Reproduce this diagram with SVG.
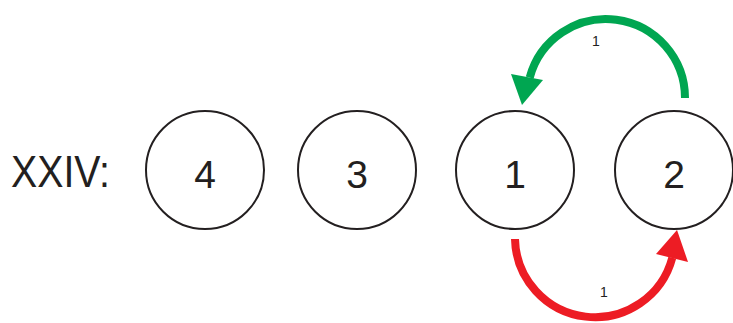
<svg xmlns="http://www.w3.org/2000/svg" width="733" height="323" viewBox="0 0 733 323">
<style>
.node circle{fill:#fff;stroke:#231f20;stroke-width:2}
.node text,.lbl{font-family:"Liberation Sans",Arial,sans-serif;fill:#231f20;text-anchor:middle}
.node text{font-size:39px}
.lbl{font-size:14px}
.g{fill:none;stroke:#00a651;stroke-width:8}
.r{fill:none;stroke:#ed1c24;stroke-width:8}
</style>
<rect width="733" height="323" fill="#fff"/>
<text x="11" y="187" font-family="'Liberation Sans',Arial,sans-serif" font-size="45" fill="#231f20" textLength="99" lengthAdjust="spacingAndGlyphs">XXIV:</text>
<g id="n4" class="node"><circle cx="205" cy="170" r="59"/><text x="205" y="188">4</text></g>
<g id="n3" class="node"><circle cx="357" cy="170" r="59"/><text x="357" y="188">3</text></g>
<g id="n1" class="node"><circle cx="515" cy="170" r="59"/><text x="515" y="188">1</text></g>
<g id="n2" class="node"><circle cx="674" cy="170" r="59"/><text x="674" y="188">2</text></g>
<g id="connectors">
<path class="g" d="M685,98 A79,79 0 0 0 529.7,77.6"/>
<polygon points="511,74 543,80 522,105" fill="#00a651"/>
<text class="lbl" x="596" y="46">1</text>
<path class="r" d="M515,239 A80,80 0 0 0 672.3,257.7"/>
<polygon points="656,254 688,262 677,230" fill="#ed1c24"/>
<text class="lbl" x="604" y="297">1</text>
</g>
</svg>
